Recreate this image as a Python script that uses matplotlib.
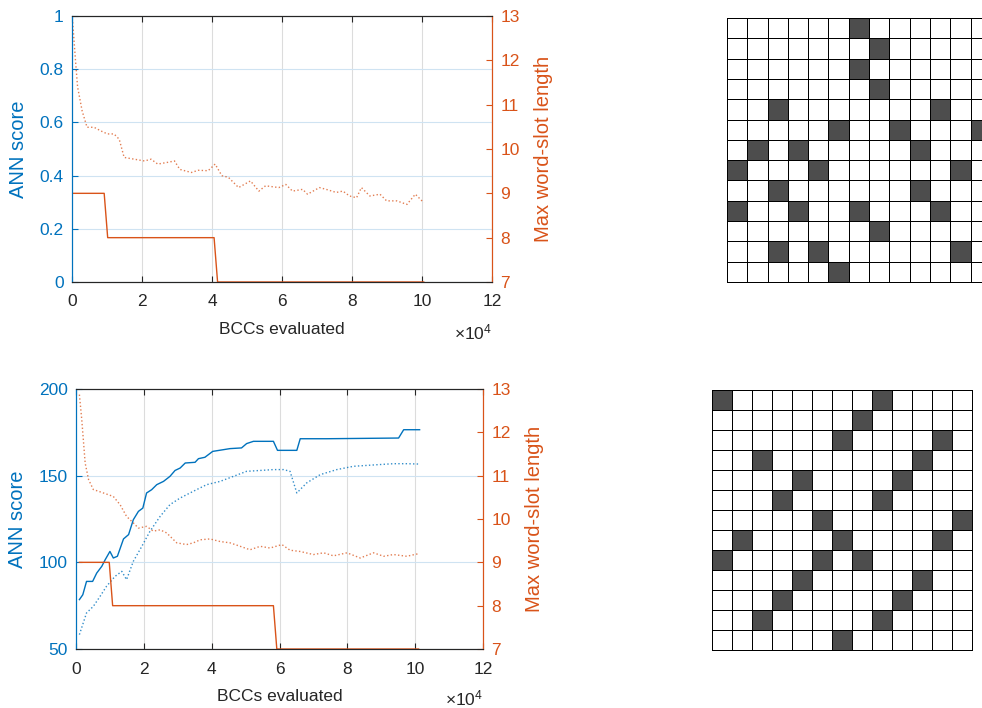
import numpy as np
import matplotlib.pyplot as plt
from matplotlib.colors import ListedColormap

plt.rcParams['font.family'] = ['Liberation Sans', 'DejaVu Sans']
plt.rcParams['mathtext.default'] = 'regular'

BLUE = '#0072BD'
ORANGE = '#D95319'

# ---- top run (x in units of 1e4 BCCs) ----
top_len_x = [0.02, 0.92, 1.02, 4.06, 4.16, 10.05]
top_len_y = [9, 9, 8, 8, 7, 7]

top_avg_x = [0.02, 0.10, 0.16, 0.29, 0.43, 0.63, 0.82, 1.01, 1.20, 1.35, 1.49, 1.78,
             2.07, 2.26, 2.45, 2.74, 2.93, 3.08, 3.41, 3.61, 3.89, 4.09, 4.28, 4.47,
             4.76, 5.10, 5.34, 5.53, 5.91, 6.11, 6.30, 6.59, 6.73, 7.07, 7.26, 7.55,
             7.74, 7.93, 8.13, 8.27, 8.51, 8.80, 8.99, 9.28, 9.57, 9.81, 10.05]
top_avg_y = [12.86, 12.0, 11.4, 10.86, 10.49, 10.49, 10.41, 10.34, 10.34, 10.22, 9.81, 9.77,
             9.73, 9.77, 9.66, 9.70, 9.73, 9.54, 9.47, 9.52, 9.51, 9.66, 9.40, 9.36,
             9.13, 9.28, 9.05, 9.17, 9.13, 9.20, 9.05, 9.09, 8.98, 9.13, 9.09, 9.02,
             9.05, 8.94, 8.90, 9.13, 8.94, 8.98, 8.83, 8.83, 8.75, 8.98, 8.79]

# ---- bottom run ----
bot_best_x = [0.10, 0.20, 0.31, 0.49, 0.61, 0.76, 0.86, 1.00, 1.10, 1.22, 1.40, 1.55,
              1.69, 1.84, 1.97, 2.08, 2.23, 2.38, 2.58, 2.77, 2.92, 3.07, 3.22, 3.51,
              3.61, 3.80, 4.03, 4.35, 4.54, 4.88, 5.03, 5.23, 5.82, 5.94, 6.51, 6.61,
              7.39, 9.51, 9.66, 10.13]
bot_best_y = [78.5, 81.3, 89.0, 89.0, 93.8, 97.7, 101.5, 106.3, 102.5, 103.5, 113.5, 116.0,
              124.6, 129.4, 131.3, 140.0, 141.9, 144.8, 146.7, 149.6, 153.0, 154.4, 157.3, 157.7,
              159.8, 160.6, 164.0, 165.0, 165.6, 166.0, 168.5, 169.8, 169.8, 164.6, 164.6, 171.3,
              171.3, 171.7, 176.5, 176.5]

bot_mean_x = [0.10, 0.31, 0.51, 0.71, 0.90, 1.15, 1.35, 1.49, 1.69, 1.94, 2.18, 2.48,
              2.77, 3.07, 3.46, 3.85, 4.25, 4.64, 5.03, 5.43, 5.82, 6.12, 6.31, 6.51,
              6.80, 7.20, 7.69, 8.18, 8.87, 9.36, 9.75, 10.10]
bot_mean_y = [58.3, 70.8, 74.6, 80.4, 86.2, 91.9, 94.8, 90.0, 100.6, 109.2, 117.9, 126.5,
              133.3, 137.1, 141.0, 144.8, 146.7, 149.6, 152.5, 153.0, 153.5, 153.5, 152.5, 140.0,
              145.8, 150.6, 153.5, 155.4, 156.3, 156.9, 156.9, 156.7]

bot_len_x = [0.10, 0.98, 1.08, 5.82, 5.92, 10.10]
bot_len_y = [9, 9, 8, 8, 7, 7]

bot_avg_x = [0.10, 0.17, 0.27, 0.37, 0.51, 0.81, 1.10, 1.30, 1.49, 1.69, 1.84, 2.08,
             2.28, 2.48, 2.67, 2.97, 3.26, 3.46, 3.66, 3.95, 4.25, 4.54, 4.84, 5.13,
             5.43, 5.72, 6.07, 6.31, 6.61, 7.00, 7.30, 7.59, 7.99, 8.38, 8.77, 9.07,
             9.36, 9.75, 10.10]
bot_avg_y = [12.87, 12.29, 11.29, 10.91, 10.68, 10.60, 10.52, 10.33, 10.06, 9.91, 9.79, 9.83,
             9.72, 9.75, 9.68, 9.45, 9.41, 9.45, 9.52, 9.54, 9.48, 9.45, 9.37, 9.29,
             9.37, 9.33, 9.41, 9.28, 9.25, 9.18, 9.22, 9.15, 9.22, 9.10, 9.22, 9.14,
             9.18, 9.14, 9.20]

# ---- crossword grids (row, col) of black cells ----
grid_top = [(0, 6), (1, 7), (2, 6), (3, 7), (4, 2), (4, 10), (5, 5), (5, 8), (5, 12),
            (6, 1), (6, 3), (6, 9), (7, 0), (7, 4), (7, 11), (8, 2), (8, 9),
            (9, 0), (9, 3), (9, 6), (9, 10), (10, 7), (11, 2), (11, 4), (11, 11), (12, 5)]
grid_bot = [(0, 0), (0, 8), (1, 7), (2, 6), (2, 11), (3, 2), (3, 10), (4, 4), (4, 9),
            (5, 3), (5, 8), (6, 5), (6, 12), (7, 1), (7, 6), (7, 11), (8, 0), (8, 5), (8, 7),
            (9, 4), (9, 10), (10, 3), (10, 9), (11, 2), (11, 8), (12, 6)]

FS = 12.5
LFS = 14.5


def style_axes(ax, ax2, ylim, yticks):
    ax.set_xlim(0, 12)
    ax.set_xticks(range(0, 13, 2))
    ax.set_ylim(*ylim)
    ax.set_yticks(yticks)
    ax.grid(True, axis='x', color='#dcdcdc', lw=0.8)
    ax.grid(True, axis='y', color='#cfe3f2', lw=0.8)
    ax.tick_params(axis='x', direction='in', colors='#262626', labelsize=FS, top=True,
                   length=4, pad=9)
    ax.tick_params(axis='y', direction='in', colors=BLUE, labelsize=FS, length=4, pad=6)
    ax.set_xlabel('BCCs evaluated', fontsize=FS, color='#262626', labelpad=9)
    ax.set_ylabel('ANN score', fontsize=LFS, color=BLUE, labelpad=8)
    ax2.set_ylim(7, 13)
    ax2.set_yticks(range(7, 14))
    ax2.tick_params(axis='y', direction='in', colors=ORANGE, labelsize=FS, length=4, pad=6)
    ax2.set_ylabel('Max word-slot length', fontsize=LFS, color=ORANGE, labelpad=10)
    for a in (ax, ax2):
        a.spines['top'].set_color('#262626')
        a.spines['bottom'].set_color('#262626')
        a.spines['left'].set_color(BLUE)
        a.spines['right'].set_color(ORANGE)
        for s in a.spines.values():
            s.set_linewidth(0.8)
    ax.text(1.0, -0.19, r'$\times 10^4$', transform=ax.transAxes, ha='right', va='center',
            fontsize=FS, color='#262626')


def draw_grid(ax, cells):
    m = np.zeros((13, 13))
    for r, c in cells:
        m[r, c] = 1
    mesh = ax.pcolormesh(m, cmap=ListedColormap(['white', '#4d4d4d']), edgecolors='black',
                         linewidth=0.5, vmin=0, vmax=1)
    mesh.set_clip_on(False)
    ax.set_xlim(0, 13)
    ax.set_ylim(13, 0)
    ax.set_aspect('equal')
    ax.axis('off')


fig = plt.figure(figsize=(9.82, 7.08), dpi=100)

# top chart
ax1 = fig.add_axes([0.0733, 0.6017, 0.4277, 0.3757])
ax1b = ax1.twinx()
ax1b.plot(top_len_x, top_len_y, color=ORANGE, lw=1.0, clip_on=False)
ax1b.plot(top_avg_x, top_avg_y, color=ORANGE, lw=1.0, ls=':', alpha=0.75)
style_axes(ax1, ax1b, (0, 1), np.arange(0, 1.01, 0.2))
ax1.set_yticklabels(['0', '0.2', '0.4', '0.6', '0.8', '1'])

# bottom chart
ax2 = fig.add_axes([0.0774, 0.0833, 0.4145, 0.3673])
ax2b = ax2.twinx()
ax2b.plot(bot_len_x, bot_len_y, color=ORANGE, lw=1.0, clip_on=False)
ax2b.plot(bot_avg_x, bot_avg_y, color=ORANGE, lw=1.0, ls=':', alpha=0.75)
ax2.plot(bot_best_x, bot_best_y, color=BLUE, lw=1.0)
ax2.plot(bot_mean_x, bot_mean_y, color=BLUE, lw=1.0, ls=':', alpha=0.8)
style_axes(ax2, ax2b, (50, 200), [50, 100, 150, 200])

# crossword grids
g1 = fig.add_axes([0.7403, 0.6017, 0.2688, 0.3729])
draw_grid(g1, grid_top)
g2 = fig.add_axes([0.7251, 0.0819, 0.2648, 0.3672])
draw_grid(g2, grid_bot)

fig.savefig('out.png', dpi=100)
